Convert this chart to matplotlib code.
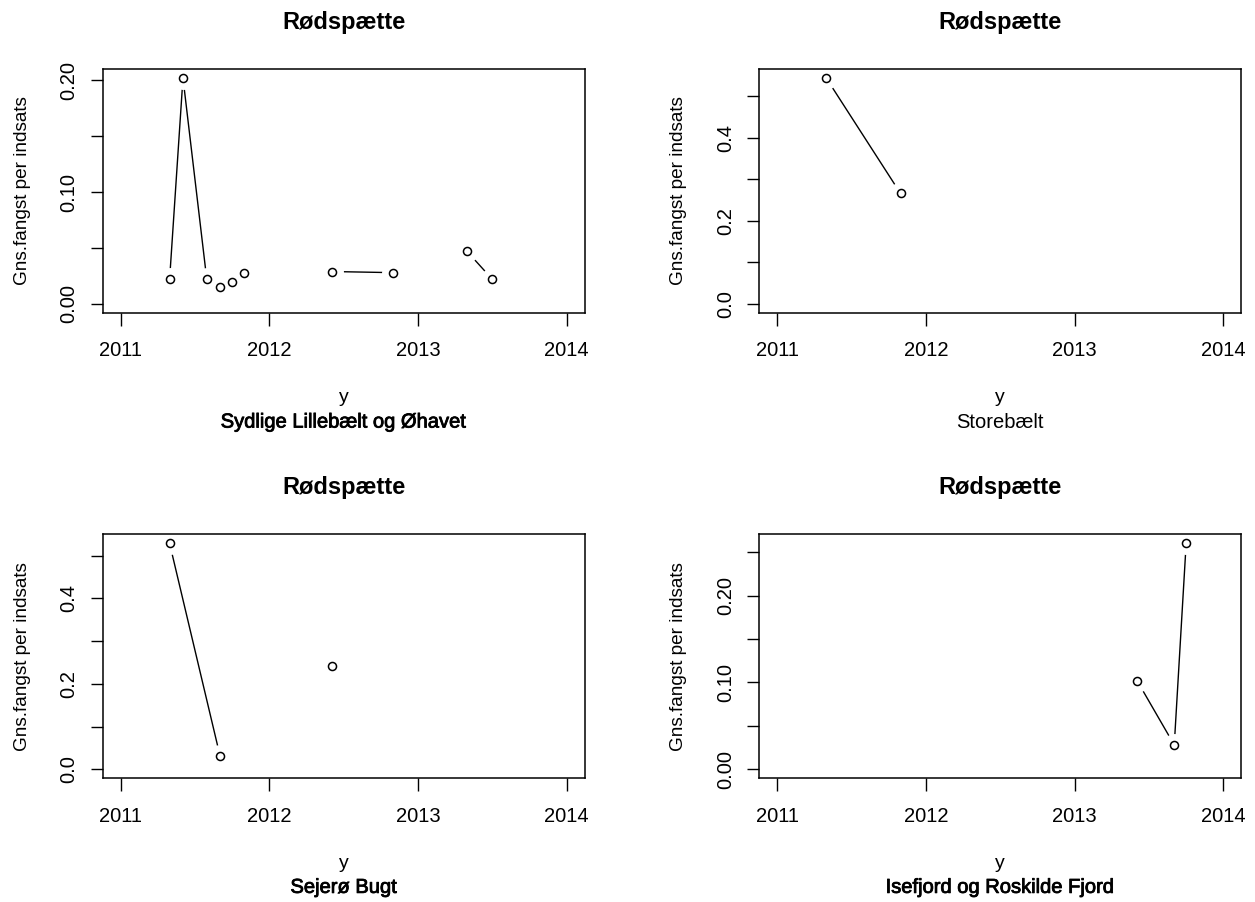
import numpy as np
import matplotlib
matplotlib.use("Agg")
import matplotlib.pyplot as plt
import matplotlib.patheffects as pe

plt.rcParams['font.family'] = ['Liberation Sans', 'DejaVu Sans']

species = "Rødspætte"
ylab = "Gns.fangst per indsats"
xlab = "y"
areas = ["Sydlige Lillebælt og Øhavet", "Storebælt", "Sejerø Bugt", "Isefjord og Roskilde Fjord"]
# subtitles drawn heavier in the original (overplotted)
heavy = [True, False, True, True]

# NaN breaks the line, like NA in R
x1 = [2011.33, 2011.42, 2011.58, 2011.67, 2011.75, 2011.83, np.nan, 2012.42, 2012.83, np.nan, 2013.33, 2013.50]
y1 = [0.022, 0.202, 0.022, 0.015, 0.020, 0.028, np.nan, 0.029, 0.028, np.nan, 0.047, 0.022]
x2 = [2011.33, 2011.83]
y2 = [0.544, 0.266]
x3 = [2011.33, 2011.67, np.nan, 2012.42]
y3 = [0.529, 0.030, np.nan, 0.242]
x4 = [2013.42, 2013.67, 2013.75]
y4 = [0.102, 0.028, 0.260]

xs = [x1, x2, x3, x4]
ys = [y1, y2, y3, y4]
ysteps = [0.05, 0.1, 0.1, 0.05]
yfmt = ["%.2f", "%.1f", "%.1f", "%.2f"]
years = [2011, 2012, 2013, 2014]

fig = plt.figure(figsize=(12.55, 9.02), dpi=100)
lefts = [0.0818, 0.605, 0.0818, 0.605]
bottoms = [0.653, 0.653, 0.1371, 0.1371]
W, H = 0.3840, 0.2705

for i in range(4):
    ax = fig.add_axes([lefts[i], bottoms[i], W, H])
    x = np.array(xs[i], dtype=float)
    y = np.array(ys[i], dtype=float)
    ax.plot(x, y, color='black', lw=1.0, zorder=2)
    # gaps around the points (R type="b")
    ax.plot(x, y, ls='none', marker='o', ms=16.5, mfc='white', mec='none', zorder=2.1)
    ax.plot(x, y, ls='none', marker='o', ms=5.8, mfc='none', mec='black', mew=1.1, zorder=3)

    xr = years[-1] - years[0]
    ax.set_xlim(years[0] - 0.04 * xr, years[-1] + 0.04 * xr)
    ymax = np.nanmax(y)
    ax.set_ylim(-0.04 * ymax, ymax * 1.04)

    ax.set_xticks(years)
    ax.set_xticklabels([str(v) for v in years])
    st = ysteps[i]
    yt = np.arange(0, ymax + 1e-9, st)
    ax.set_yticks(yt)
    ax.set_yticklabels([yfmt[i] % v if k % 2 == 0 else "" for k, v in enumerate(yt)])
    for lab in ax.get_yticklabels():
        lab.set_rotation(90)
        lab.set_va('center')

    ax.tick_params(direction='out', length=9, width=1.0, labelsize=14.5, colors='black')
    ax.tick_params(axis='x', pad=11.5)
    ax.tick_params(axis='y', pad=8.5)
    for s in ax.spines.values():
        s.set_linewidth(1.1)

    ax.annotate(species, xy=(0.5, 1), xycoords='axes fraction', xytext=(0, 33.8),
                textcoords='offset points', ha='center', va='center',
                fontsize=17, fontweight='bold')
    ax.annotate(xlab, xy=(0.5, 0), xycoords='axes fraction', xytext=(0, -61.2),
                textcoords='offset points', ha='center', va='center', fontsize=14)
    sub = ax.annotate(areas[i], xy=(0.5, 0), xycoords='axes fraction', xytext=(0, -78.5),
                      textcoords='offset points', ha='center', va='center', fontsize=14.5)
    if heavy[i]:
        sub.set_path_effects([pe.withStroke(linewidth=0.6, foreground='black')])
    ax.annotate(ylab, xy=(0, 0.5), xycoords='axes fraction', xytext=(-58, 0),
                textcoords='offset points', ha='center', va='center', fontsize=13.7,
                rotation=90)

fig.savefig("out.png", dpi=100)
